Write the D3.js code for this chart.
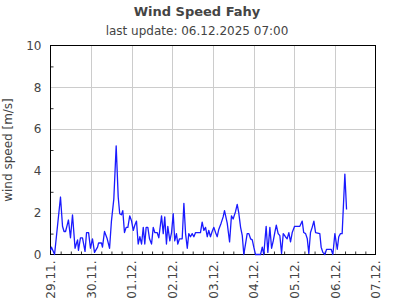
<!DOCTYPE html>
<html>
<head>
<meta charset="utf-8">
<script src="https://cdn.jsdelivr.net/npm/d3@7"></script>
<style>
  body { margin: 0; background: #fff; }
  text { font-family: "DejaVu Sans", sans-serif; }
</style>
</head>
<body>
<svg id="chart" width="395" height="300"></svg>
<script>
// hours since 29.11. 00:00 and wind speed in m/s
const hours = [0, 0.6, 2.4, 5.9, 7.1, 8.0, 8.9, 10.0, 10.6, 11.8, 13.0, 14.5, 15.4, 16.0, 16.5, 17.7, 18.9, 20.4, 21.3, 22.5,
  23.6, 24.8, 26.0, 27.8, 28.4, 30.1, 30.7, 31.9, 33.5, 34.9, 36.0, 37.4, 38.8, 40.0, 40.9, 41.9, 42.7, 43.7, 44.7, 45.7,
  46.8, 47.9, 48.9, 49.8, 50.8, 51.8, 52.8, 53.8, 54.8, 55.7, 56.5, 57.5, 58.5, 59.7, 60.7, 61.6, 63.0, 64.0, 65.6, 66.6,
  67.5, 68.5, 69.3, 70.5, 71.5, 72.5, 73.4, 74.4, 75.2, 76.2, 77.8, 78.8, 79.8, 80.8, 81.7, 82.7, 83.7, 84.7, 85.7, 88.6,
  89.6, 90.6, 91.6, 92.6, 93.5, 94.5, 95.5, 96.5, 97.5, 98.5, 99.4, 100.8, 102.0, 102.8, 104.4, 105.8, 106.9, 107.9, 109.3, 110.3,
  111.2, 112.3, 113.3, 114.2, 115.2, 116.2, 117.2, 118.2, 119.2, 120.1, 121.1, 124.1, 125.1, 126.0, 127.4, 128.4, 129.6, 130.6, 131.6, 132.5,
  133.4, 134.5, 135.5, 136.5, 137.5, 138.8, 139.8, 140.8, 141.8, 142.8, 144.2, 147.3, 148.7, 149.6, 150.7, 151.7, 152.6, 153.6, 154.6, 155.6,
  156.6, 159.1, 159.9, 160.9, 162.1, 163.1, 165.8, 166.8, 168.0, 169.4, 170.3, 171.3, 172.3, 173.9, 174.9];
const speed = [0.2, 0.35, 0, 2.75, 1.35, 1.1, 1.1, 1.45, 1.65, 0.8, 1.9, 0.3, 0.55, 0.7, 0.2, 0.8, 0.8, 0.15, 1.05, 1.05,
  0.3, 0.75, 0.1, 0.35, 0.55, 0.55, 0.35, 1.1, 0.75, 0.3, 1.6, 2.65, 5.2, 2.75, 1.95, 1.9, 2.1, 1.05, 1.3, 1.3,
  1.85, 1.6, 1.15, 1.4, 1.6, 0.5, 0.85, 0.5, 1.3, 0.5, 1.3, 1.3, 0.75, 0.5, 1.3, 1.05, 1.05, 0.8, 1.85, 1.0,
  1.8, 0.5, 1.35, 0.65, 1.05, 1.95, 0.65, 1.0, 0.5, 0.75, 0.75, 2.45, 1.0, 0.3, 1.0, 0.85, 1.0, 0.85, 1.05, 1.05,
  1.55, 1.15, 1.3, 0.85, 1.15, 0.85, 1.1, 1.3, 1.05, 0.85, 1.2, 1.5, 1.8, 2.1, 1.5, 0.6, 1.85, 1.7, 2.05, 2.4,
  2.0, 1.3, 0.9, 0, 0.5, 1.0, 1.0, 0.75, 0.7, 0.35, 0, 0, 0.35, 0, 1.35, 0.1, 1.3, 0.3, 0.65, 1.05,
  1.4, 1.0, 0.9, 0.05, 1.0, 0.85, 0.75, 1.05, 0.6, 1.05, 1.35, 1.35, 1.6, 1.05, 1.0, 0.75, 0.05, 1.05, 1.3, 1.6,
  1.05, 1.0, 0.35, 0.1, 0, 0.25, 0.25, 0, 1.0, 0.25, 0.85, 1.0, 1.0, 3.85, 2.15];
const dayLabels = ['29.11.', '30.11.', '01.12.', '02.12.', '03.12.', '04.12.', '05.12.', '06.12.', '07.12.'];
const yMajor = [0, 2, 4, 6, 8, 10];

const margin = { top: 45.5, right: 19.5, bottom: 45.5, left: 50.5 },
  width = 395,
  height = 300;

const svg = d3.select('#chart');
const data = hours.map((h, i) => ({ h, v: speed[i] }));

const x = d3.scaleLinear()
  .domain([0, (dayLabels.length - 1) * 24])
  .range([margin.left, width - margin.right]);
const y = d3.scaleLinear()
  .domain([0, 10])
  .range([height - margin.bottom, margin.top]);

// grid
svg.append('g')
  .selectAll('line.vg')
  .data(dayLabels.slice(1, -1).map((d, i) => (i + 1) * 24))
  .join('line')
  .attr('x1', d => Math.round(x(d)) + 0.5).attr('x2', d => Math.round(x(d)) + 0.5)
  .attr('y1', y(10)).attr('y2', y(0))
  .attr('stroke', '#cccccc');
svg.append('g')
  .selectAll('line')
  .data(yMajor.slice(1, -1))
  .join('line')
  .attr('x1', x(0)).attr('x2', x(192))
  .attr('y1', d => Math.round(y(d)) + 0.5).attr('y2', d => Math.round(y(d)) + 0.5)
  .attr('stroke', '#cccccc');

// minor ticks
svg.append('g')
  .call(d3.axisLeft(y).tickValues(d3.range(1, 10, 2)).tickSize(-3).tickFormat(''))
  .attr('transform', `translate(${margin.left},0)`)
  .call(g => g.select('.domain').remove())
  .selectAll('line').attr('stroke', '#333');
svg.append('g')
  .attr('transform', `translate(0,${height - margin.bottom})`)
  .call(d3.axisBottom(x).tickValues(d3.range(6, 192, 6).filter(d => d % 24)).tickSize(-3).tickFormat(''))
  .call(g => g.select('.domain').remove())
  .selectAll('line').attr('stroke', '#333');

// axes labels
svg.append('g')
  .attr('transform', `translate(${margin.left},0)`)
  .call(d3.axisLeft(y).tickValues(yMajor).tickSize(0).tickPadding(9))
  .call(g => g.select('.domain').remove())
  .selectAll('text')
  .attr('font-size', 12).attr('fill', '#444').attr('font-family', 'DejaVu Sans');

svg.append('g')
  .attr('transform', `translate(0,${height - margin.bottom})`)
  .call(d3.axisBottom(x).tickValues(dayLabels.map((d, i) => i * 24)).tickSize(0).tickFormat((d, i) => dayLabels[i]))
  .call(g => g.select('.domain').remove())
  .selectAll('text')
  .attr('font-size', 12).attr('fill', '#444').attr('font-family', 'DejaVu Sans')
  .attr('transform', 'rotate(-90)')
  .attr('text-anchor', 'end')
  .attr('x', -6).attr('y', 0).attr('dy', '0.35em');

// frame
svg.append('rect')
  .attr('x', x(0)).attr('y', y(10))
  .attr('width', x(192) - x(0)).attr('height', y(0) - y(10))
  .attr('fill', 'none').attr('stroke', '#000');

// line
const line = d3.line().x(d => x(d.h)).y(d => y(d.v));
svg.append('path')
  .datum(data)
  .attr('fill', 'none')
  .attr('stroke', '#1a1aff')
  .attr('stroke-width', 1.3)
  .attr('stroke-linejoin', 'round')
  .attr('d', line);

svg.append('text')
  .attr('x', 197).attr('y', 16)
  .attr('text-anchor', 'middle')
  .attr('font-size', 13).attr('font-weight', 'bold').attr('fill', '#444')
  .text('Wind Speed Fahy');
svg.append('text')
  .attr('x', 197).attr('y', 35)
  .attr('text-anchor', 'middle')
  .attr('font-size', 12).attr('fill', '#444')
  .text('last update: 06.12.2025 07:00');

svg.append('text')
  .attr('transform', `translate(12,${(y(0) + y(10)) / 2}) rotate(-90)`)
  .attr('text-anchor', 'middle')
  .attr('font-size', 12).attr('fill', '#444')
  .text('wind speed [m/s]');
</script>
</body>
</html>
